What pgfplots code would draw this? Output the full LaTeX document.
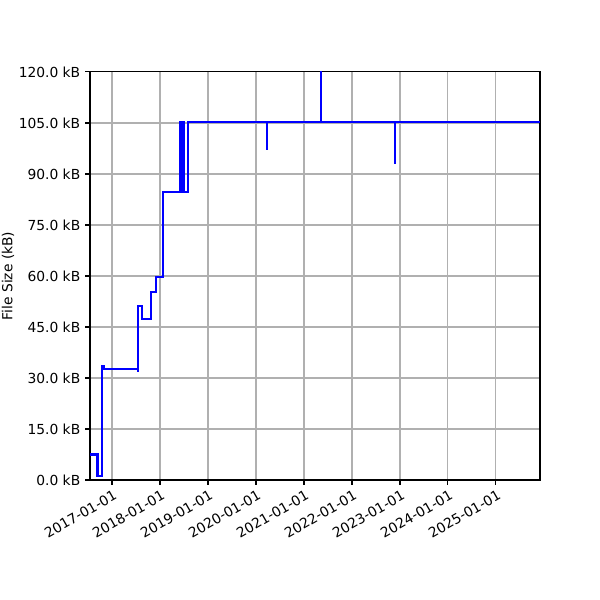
\documentclass[border=0pt]{standalone}
\usepackage{pgfplots}
\pgfplotsset{compat=1.18}
\usepackage{fontspec}
\setmainfont{DejaVu Sans}
\definecolor{gridgray}{HTML}{B0B0B0}
\begin{document}
\begin{tikzpicture}
\useasboundingbox (-65.04pt,-86.72pt) rectangle (368.6pt,346.9pt);
\begin{axis}[
  at={(0,0)}, anchor=south west,
  scale only axis, width=325.2pt, height=294.9pt,
  xmin=2016.542, xmax=2025.917,
  ymin=0, ymax=120,
  xtick={2017,2018,2019,2020,2021,2022,2023,2024,2025},
  xticklabels={2017-01-01,2018-01-01,2019-01-01,2020-01-01,2021-01-01,2022-01-01,2023-01-01,2024-01-01,2025-01-01},
  xticklabel style={rotate=30, anchor=north east, inner sep=1pt, yshift=-2pt},
  ytick={0,15,30,45,60,75,90,105,120},
  yticklabel={\pgfmathprintnumber[fixed,fixed zerofill,precision=1]{\tick} kB},
  /pgf/number format/assume math mode=true,
  ticklabel style={font=\fontsize{10}{12}\selectfont},
  tick style={black, line width=0.8pt},
  tick align=outside, major tick length=3.5pt,
  xtick pos=bottom, ytick pos=left,
  grid=major, grid style={gridgray, line width=0.8pt},
  axis line style={black, line width=0.8pt},
  ylabel={File Size (kB)},
  every axis y label/.style={at={(axis description cs:-0.182,0.5)}, rotate=90, anchor=center, font=\fontsize{10}{12}\selectfont},
  clip=true,
]
\addplot[blue, line width=1.5pt, line join=miter] coordinates {
(2016.542,7.5) (2016.681,7.5) (2016.681,1.2) (2016.69,1.2) (2016.69,7.5) (2016.70,7.5) (2016.70,1.2)
(2016.708,1.2) (2016.708,7.3) (2016.715,7.3) (2016.715,1.2)
(2016.785,1.2) (2016.785,33.5) (2016.84,33.5) (2016.84,32.6)
(2017.545,32.6) (2017.545,32.0) (2017.548,32.0) (2017.548,51.2) (2017.62,51.2) (2017.62,47.4)
(2017.8125,47.4) (2017.8125,55.4) (2017.91,55.4) (2017.91,59.7)
(2018.069,59.7) (2018.069,84.8) (2018.417,84.8) (2018.417,105.2)
(2018.43,105.2) (2018.43,84.8) (2018.44,84.8) (2018.44,105.2)
(2018.47,105.2) (2018.47,84.8) (2018.48,84.8) (2018.48,105.2)
(2018.51,105.2) (2018.51,84.8) (2018.59,84.8) (2018.59,105.2)
(2020.229,105.2) (2020.229,97.4) (2020.232,97.4) (2020.232,105.2)
(2021.354,105.2) (2021.354,125) (2021.357,125) (2021.357,105.4)
(2022.896,105.4) (2022.896,93.2) (2022.9,93.2) (2022.9,105.4)
(2025.917,105.4)
};
\end{axis}
\end{tikzpicture}
\end{document}
